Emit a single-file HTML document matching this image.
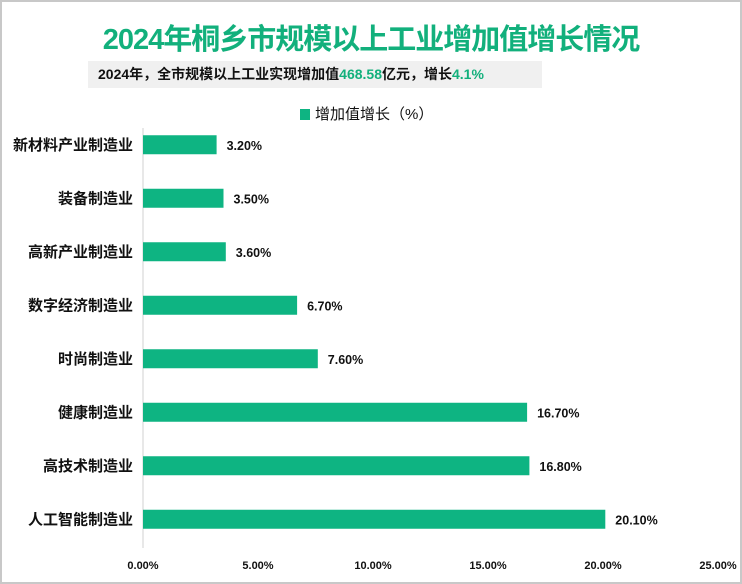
<!DOCTYPE html>
<html><head><meta charset="utf-8"><style>
body{margin:0;background:#fff}
#wrap{position:relative;width:742px;height:584px;box-sizing:border-box;border:2px solid #c8c8c8;background:#fff;font-family:"Liberation Sans","Noto Sans CJK SC",sans-serif;overflow:hidden}
#title{position:absolute;left:0;width:738px;top:14px;text-align:center;font-size:29px;font-weight:bold;color:#12b07c;letter-spacing:-1px}
#sub{position:absolute;left:86px;top:59px;width:454px;height:27px;background:#f0f0f0;font-size:14px;font-weight:bold;color:#111;line-height:27px;padding-left:10px;box-sizing:border-box}
#sub span{color:#12b07c}
#legend{position:absolute;left:298px;top:101px;font-size:15px;color:#111}
#legend i{display:inline-block;width:10px;height:11px;background:#0eb482;margin-right:5px;vertical-align:-1px}
svg{position:absolute;left:0;top:0}
</style></head><body>
<div id="wrap">
<div id="title">2024年桐乡市规模以上工业增加值增长情况</div>
<div id="sub">2024年，全市规模以上工业实现增加值<span>468.58</span>亿元，增长<span>4.1%</span></div>
<div id="legend"><i></i>增加值增长（%）</div>
<svg id="chart" width="742" height="584"></svg>
</div>
<script>
const categories=["新材料产业制造业","装备制造业","高新产业制造业","数字经济制造业","时尚制造业","健康制造业","高技术制造业","人工智能制造业"];
const values=[3.2,3.5,3.6,6.7,7.6,16.7,16.8,20.1];
const ticks=[0,5,10,15,20,25];
const ns="http://www.w3.org/2000/svg";
const svg=document.getElementById('chart');
const x0=141,pxPer=23;
const xs=v=>x0+v*pxPer;
const yTop=116,band=53.5;
const yc=i=>yTop+band*(i+0.5);
function mk(t,a,txt){const e=document.createElementNS(ns,t);for(const k in a)e.setAttribute(k,a[k]);if(txt!==undefined)e.textContent=txt;svg.appendChild(e);return e;}
const ax=mk('line',{x1:x0,x2:x0,y1:126,y2:546,stroke:'#d0d0d0','stroke-width':1});


categories.forEach((c,i)=>{
  const r=mk('rect',{x:x0,y:yc(i)-9.5,width:xs(values[i])-x0,height:19,fill:'#0eb482'});
  
  
  const l=mk('text',{x:131,y:yc(i)+5,'text-anchor':'end','font-size':15,'font-weight':'bold',fill:'#111','font-family':'Liberation Sans, Noto Sans CJK SC, sans-serif'},c);
  
  
  const v=mk('text',{x:xs(values[i])+10,y:yc(i)+5,'font-size':12.5,'font-weight':'bold',fill:'#111','font-family':'Liberation Sans, sans-serif'},values[i].toFixed(2)+'%');
  
  
});
ticks.forEach(t=>{
  const e=mk('text',{x:xs(t),y:567,'text-anchor':'middle','font-size':11,'font-weight':'bold',fill:'#111','font-family':'Liberation Sans, sans-serif'},t.toFixed(2)+'%');
  
  
});
</script>
</body></html>
